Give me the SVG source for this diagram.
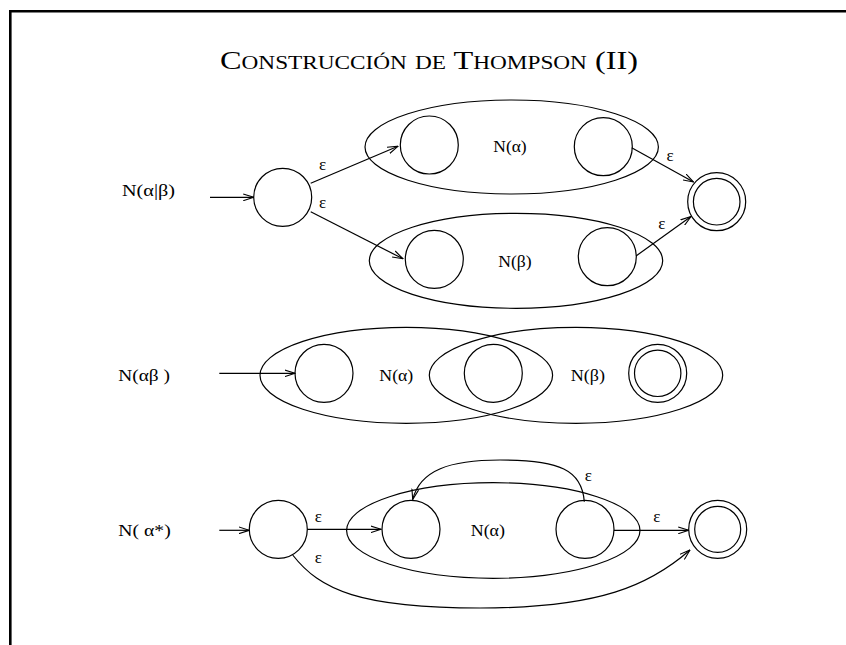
<svg xmlns="http://www.w3.org/2000/svg" width="846" height="645" viewBox="0 0 846 645">
<style>
.st{fill:none;stroke:#000;stroke-width:1.2}
.lbl{font-family:"Liberation Serif","Times New Roman",serif;font-size:17px;fill:#000}
.eps{font-family:"Liberation Serif","Times New Roman",serif;font-size:17px;fill:#000;text-anchor:middle}
.title{font-family:"Liberation Serif","Times New Roman",serif;font-size:25px;font-variant:small-caps;fill:#000}
.edge{fill:none;stroke:#000;stroke-width:1.2;marker-end:url(#arr)}
</style>
<defs>
<marker id="arr" markerUnits="userSpaceOnUse" viewBox="0 0 11 8" markerWidth="11" markerHeight="8" refX="10.5" refY="4" orient="auto">
<path d="M0,0.6 L10.5,4 L0,7.4" fill="none" stroke="#000" stroke-width="1.1"/>
</marker>
</defs>
<rect width="846" height="645" fill="#fff"/>
<path d="M10.3,645 L10.3,11.3 L846,11.3" fill="none" stroke="#000" stroke-width="2.6"/>
<text class="title" x="220" y="69.3" textLength="418" lengthAdjust="spacingAndGlyphs">Construcción de Thompson (II)</text>

<!-- Row 1: alternation -->
<g id="label-alt"><text class="lbl" x="122" y="196" textLength="53" lengthAdjust="spacingAndGlyphs">N(α|β)</text></g>
<g id="cluster-a1"><ellipse class="st" cx="511.7" cy="147" rx="146.7" ry="47"/><text class="lbl" x="493.3" y="152" textLength="33.4" lengthAdjust="spacingAndGlyphs">N(α)</text></g>
<g id="cluster-b1"><ellipse class="st" cx="516" cy="260.8" rx="146.7" ry="47.5"/><text class="lbl" x="498.3" y="267" textLength="33.4" lengthAdjust="spacingAndGlyphs">N(β)</text></g>
<g id="s1"><circle class="st" cx="282.7" cy="197.3" r="29"/></g>
<g id="a1s"><circle class="st" cx="429.3" cy="145" r="29"/></g>
<g id="a1e"><circle class="st" cx="603.3" cy="146.7" r="29"/></g>
<g id="b1s"><circle class="st" cx="434.3" cy="259.3" r="29"/></g>
<g id="b1e"><circle class="st" cx="607.3" cy="256.7" r="29"/></g>
<g id="f1"><circle class="st" cx="716.7" cy="201.7" r="29"/><circle class="st" cx="716.7" cy="201.7" r="23.3"/></g>

<!-- Row 2: concatenation -->
<g id="label-cat"><text class="lbl" x="118.3" y="381" textLength="51.7" lengthAdjust="spacingAndGlyphs">N(αβ )</text></g>
<g id="cluster-a2"><ellipse class="st" cx="406.3" cy="375.3" rx="146.3" ry="48"/><text class="lbl" x="379.3" y="381" textLength="34" lengthAdjust="spacingAndGlyphs">N(α)</text></g>
<g id="cluster-b2"><ellipse class="st" cx="576" cy="375.3" rx="146.7" ry="48"/><text class="lbl" x="570.7" y="381" textLength="34.3" lengthAdjust="spacingAndGlyphs">N(β)</text></g>
<g id="c1"><circle class="st" cx="324" cy="373.3" r="29"/></g>
<g id="c2"><circle class="st" cx="493.3" cy="373.3" r="29"/></g>
<g id="f2"><circle class="st" cx="657.7" cy="373.3" r="29"/><circle class="st" cx="657.7" cy="373.3" r="23.2"/></g>

<!-- Row 3: Kleene star -->
<g id="label-star"><text class="lbl" x="118.3" y="536" textLength="52.4" lengthAdjust="spacingAndGlyphs">N( α*)</text></g>
<g id="cluster-a3"><ellipse class="st" cx="493.3" cy="530.5" rx="146.7" ry="47.8"/><text class="lbl" x="470.7" y="536" textLength="34.3" lengthAdjust="spacingAndGlyphs">N(α)</text></g>
<g id="s3"><circle class="st" cx="278.3" cy="529.3" r="29"/></g>
<g id="d1"><circle class="st" cx="411" cy="529.3" r="29"/></g>
<g id="d2"><circle class="st" cx="585" cy="529.3" r="29"/></g>
<g id="f3"><circle class="st" cx="717.7" cy="529.3" r="29"/><circle class="st" cx="717.7" cy="529.3" r="23"/></g>

<g id="connectors">
<path class="edge" d="M210,197.3 L253.7,197.3"/>
<path class="edge" d="M310.7,183.3 L398,146.3"/>
<path class="edge" d="M310.7,211.7 L403,258.8"/>
<path class="edge" d="M631.7,147.7 L693.5,182"/>
<path class="edge" d="M636,256 L691,216.5"/>
<path class="edge" d="M219.3,373.3 L295,373.3"/>
<path class="edge" d="M219.3,530.3 L249.3,530.3"/>
<path class="edge" d="M307.3,529.3 L381,529.3"/>
<path class="edge" d="M614,530.3 L688.7,530.3"/>
<path class="edge" d="M584.3,501.7 C582,470 560,460 500,460 C450,460 420,470 412.7,499.5"/>
<path class="edge" d="M292.7,555 C320,590 360,608 480,608 C600,608 650,585 690,550"/>
</g>
<g id="edge-labels">
<text class="eps" x="322.5" y="170">ε</text>
<text class="eps" x="322.5" y="207.5">ε</text>
<text class="eps" x="670" y="161">ε</text>
<text class="eps" x="661.7" y="228.5">ε</text>
<text class="eps" x="318.3" y="522">ε</text>
<text class="eps" x="318.3" y="562.5">ε</text>
<text class="eps" x="588.3" y="480.5">ε</text>
<text class="eps" x="656.7" y="521.5">ε</text>
</g>
</svg>
